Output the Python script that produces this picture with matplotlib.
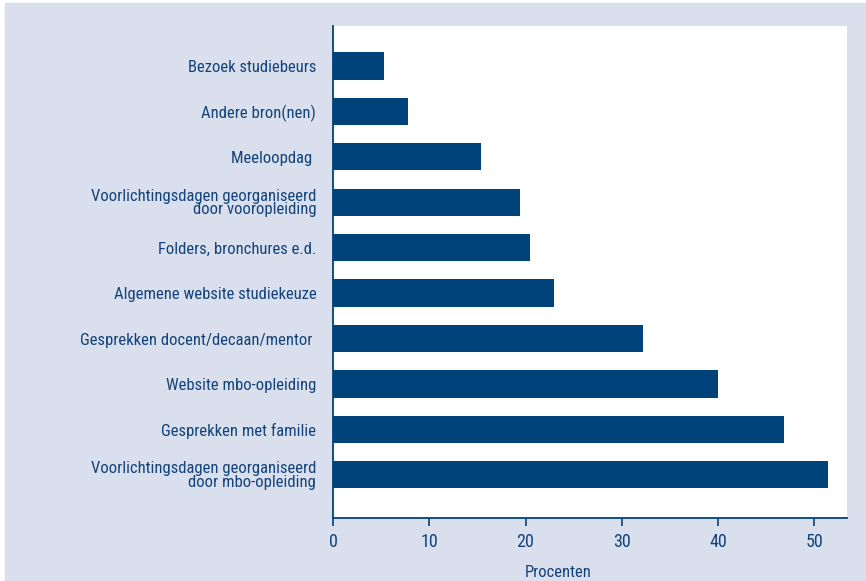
import matplotlib.pyplot as plt
from matplotlib.patches import Rectangle

labels = [
    "Voorlichtingsdagen georganiseerd\ndoor mbo-opleiding",
    "Gesprekken met familie",
    "Website mbo-opleiding",
    "Gesprekken docent/decaan/mentor ",
    "Algemene website studiekeuze",
    "Folders, bronchures e.d.",
    "Voorlichtingsdagen georganiseerd\ndoor vooropleiding",
    "Meeloopdag ",
    "Andere bron(nen)",
    "Bezoek studiebeurs",
]
values = [51.4, 46.9, 40.0, 32.2, 23.0, 20.5, 19.4, 15.4, 7.8, 5.3]
xticks = [0, 10, 20, 30, 40, 50]

bg = "#d9dfec"
bar_col = "#00427a"
txt = "#13437a"

plt.rcParams["font.family"] = ["Roboto Condensed", "Liberation Sans Narrow",
                               "Liberation Sans", "DejaVu Sans"]

fig = plt.figure(figsize=(8.66, 5.81), dpi=100, facecolor="white")
fig.patches.append(Rectangle((5 / 866, 0), 1 - 6 / 866, 1 - 3 / 581,
                             transform=fig.transFigure, color=bg, zorder=-10))

ax = fig.add_axes([333 / 866, 1 - 518 / 581, (847 - 333) / 866, (518 - 26) / 581])
ax.set_facecolor("white")

y = list(range(len(values)))
ax.barh(y, values, height=0.6, color=bar_col)

ax.set_xlim(0, 53.4)
ax.set_ylim(-0.95, 9.88)
ax.set_yticks(y)
ax.set_yticklabels(labels, fontsize=12, color=txt, linespacing=0.85)
ax.tick_params(axis="y", length=0, pad=12)
ax.set_xticks(xticks)
ax.tick_params(axis="x", colors=bar_col, labelcolor=txt, labelsize=13,
               length=6, width=1.2, pad=5)

for s in ["top", "right"]:
    ax.spines[s].set_visible(False)
for s in ["left", "bottom"]:
    ax.spines[s].set_color(bar_col)
    ax.spines[s].set_linewidth(1.3)

ax.set_xlabel("Procenten", fontsize=12, color=txt)
ax.xaxis.set_label_coords(0.438, -0.095)

fig.savefig("out.png", dpi=100, facecolor=fig.get_facecolor())
